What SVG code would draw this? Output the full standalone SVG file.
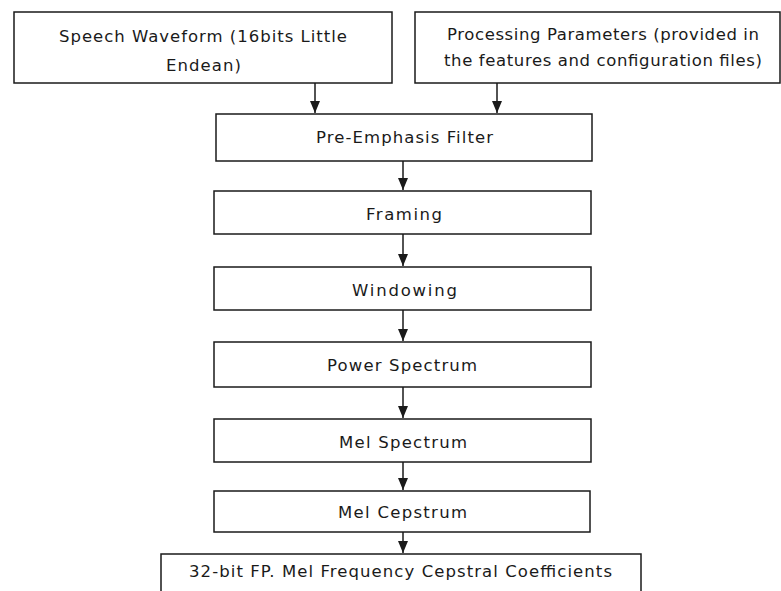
<svg xmlns="http://www.w3.org/2000/svg" width="781" height="591" viewBox="0 0 781 591">
<style>
rect.box{fill:#fff;stroke:#1a1a1a;stroke-width:1.5}
text{font-family:"DejaVu Sans","Liberation Sans",sans-serif;font-size:16.5px;fill:#1a1a1a;text-anchor:middle}
.conn line{stroke:#1a1a1a;stroke-width:1.5;marker-end:url(#arr)}
</style>
<defs>
<marker id="arr" viewBox="0 0 12 10" markerWidth="12" markerHeight="10" refX="12" refY="5" orient="auto" markerUnits="userSpaceOnUse">
<path d="M0,0 L12,5 L0,10 z" fill="#1a1a1a"/>
</marker>
</defs>
<rect width="781" height="591" fill="#fff"/>
<g id="speech"><rect class="box" x="14" y="12" width="378" height="71"/>
<text x="203" y="42" textLength="288" lengthAdjust="spacing">Speech Waveform (16bits Little</text>
<text x="203.5" y="71" textLength="75" lengthAdjust="spacing">Endean)</text></g>
<g id="params"><rect class="box" x="415" y="12" width="365" height="71"/>
<text x="603" y="40" textLength="312" lengthAdjust="spacing">Processing Parameters (provided in</text>
<text x="603" y="66" textLength="318" lengthAdjust="spacing">the features and configuration files)</text></g>
<g id="preemph"><rect class="box" x="216" y="114" width="376" height="47"/>
<text x="404.5" y="143" textLength="177" lengthAdjust="spacing">Pre-Emphasis Filter</text></g>
<g id="framing"><rect class="box" x="214" y="191" width="377" height="43"/>
<text x="404" y="220" textLength="76" lengthAdjust="spacing">Framing</text></g>
<g id="windowing"><rect class="box" x="214" y="267" width="377" height="43"/>
<text x="404.5" y="296" textLength="105" lengthAdjust="spacing">Windowing</text></g>
<g id="power"><rect class="box" x="214" y="342" width="377" height="45"/>
<text x="402" y="371" textLength="150" lengthAdjust="spacing">Power Spectrum</text></g>
<g id="melspec"><rect class="box" x="214" y="419" width="377" height="43"/>
<text x="403" y="448" textLength="128" lengthAdjust="spacing">Mel Spectrum</text></g>
<g id="melcep"><rect class="box" x="214" y="491" width="376" height="41"/>
<text x="402.5" y="518" textLength="129" lengthAdjust="spacing">Mel Cepstrum</text></g>
<g id="mfcc"><rect class="box" x="161" y="554" width="480" height="50"/>
<text x="400.5" y="577" textLength="423" lengthAdjust="spacing">32-bit FP. Mel Frequency Cepstral Coefficients</text></g>
<g class="conn" id="connectors">
<line x1="315" y1="83" x2="315" y2="113"/>
<line x1="497" y1="83" x2="497" y2="113"/>
<line x1="403" y1="161" x2="403" y2="190"/>
<line x1="403" y1="234" x2="403" y2="266"/>
<line x1="403" y1="310" x2="403" y2="341"/>
<line x1="403" y1="387" x2="403" y2="418"/>
<line x1="403" y1="462" x2="403" y2="490"/>
<line x1="403" y1="532" x2="403" y2="553"/>
</g>
</svg>
